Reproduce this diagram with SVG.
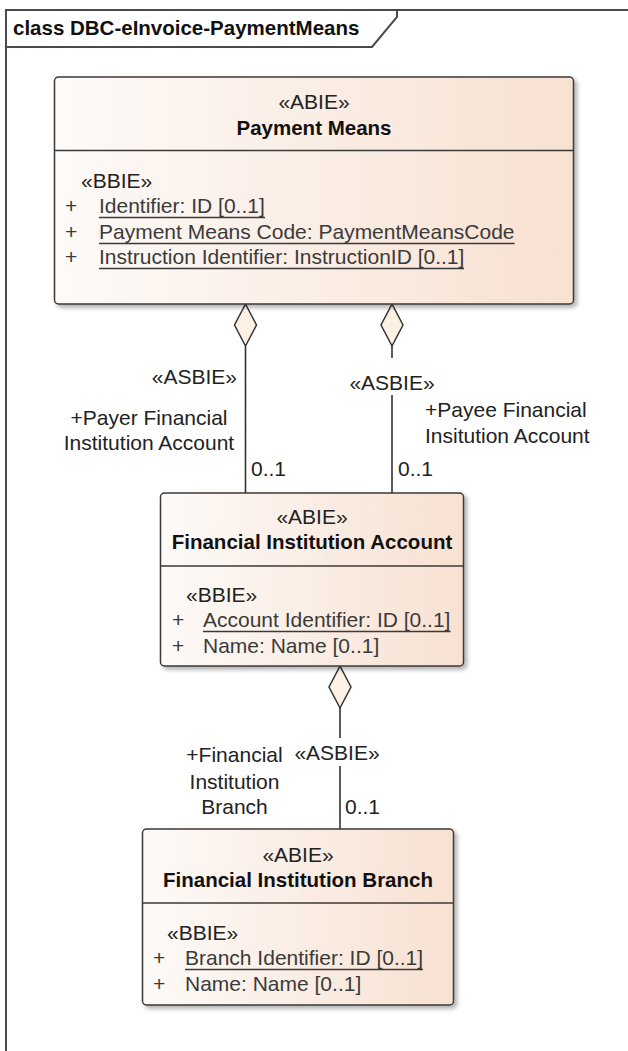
<svg xmlns="http://www.w3.org/2000/svg" width="628" height="1051" viewBox="0 0 628 1051">
  <style>
    text { font-family: "Liberation Sans", Arial, sans-serif; font-size: 21px; fill: #2a2a2a; }
    .title { font-weight: bold; font-size: 20.5px; fill: #111; }
    .ster { fill: #222; }
    .attr { fill: #3a3a3a; }
    .lbl { fill: #222; }
    .mid { text-anchor: middle; }
    .end { text-anchor: end; }
    .box { fill: url(#boxFill); stroke: #3a3a3a; stroke-width: 1.5; filter: url(#shadow); }
    .div { stroke: #3a3a3a; stroke-width: 1.5; }
    .ul { stroke: #3a3a3a; stroke-width: 1.5; }
    .conn { stroke: #333; stroke-width: 1.6; fill: none; }
    .agg { fill: #fdf1e4; stroke: #333; stroke-width: 1.5; }
    .frame { stroke: #4a4a4a; stroke-width: 2; fill: none; }
  </style>
  <defs>
    <linearGradient id="boxFill" x1="0" y1="0" x2="1" y2="0">
      <stop offset="0" stop-color="#fdfaf8"/>
      <stop offset="1" stop-color="#f8e1d1"/>
    </linearGradient>
    <filter id="shadow" x="-5%" y="-5%" width="115%" height="115%">
      <feDropShadow dx="3" dy="3" stdDeviation="2" flood-color="#000" flood-opacity="0.3"/>
    </filter>
  </defs>

  <rect width="628" height="1051" fill="#fff"/>

  <!-- diagram frame with name tab -->
  <g id="frame">
    <path class="frame" d="M6,1060 V10 H640"/>
    <path class="frame" d="M6,47 H372 L397,17 V10"/>
    <text class="title" x="13" y="35">class DBC-eInvoice-PaymentMeans</text>
  </g>

  <!-- aggregation connectors -->
  <g id="connectors">
    <!-- Payment Means -> Financial Institution Account (payer) -->
    <line class="conn" x1="245.5" y1="346" x2="245.5" y2="493"/>
    <polygon class="agg" points="245.5,304 256.5,325 245.5,346 234.5,325"/>
    <text class="lbl end" x="237" y="384">«ASBIE»</text>
    <text class="lbl mid" x="149" y="425">+Payer Financial</text>
    <text class="lbl mid" x="149" y="450">Institution Account</text>
    <text class="lbl" x="251" y="476">0..1</text>

    <!-- Payment Means -> Financial Institution Account (payee) -->
    <line class="conn" x1="392" y1="346" x2="392" y2="358"/>
    <line class="conn" x1="392" y1="395" x2="392" y2="493"/>
    <polygon class="agg" points="392,304 403,325 392,346 381,325"/>
    <text class="lbl mid" x="392" y="390">«ASBIE»</text>
    <text class="lbl" x="425" y="417">+Payee Financial</text>
    <text class="lbl" x="425" y="443">Insitution Account</text>
    <text class="lbl" x="398" y="476">0..1</text>

    <!-- Financial Institution Account -> Financial Institution Branch -->
    <line class="conn" x1="340" y1="708" x2="340" y2="738"/>
    <line class="conn" x1="340" y1="766" x2="340" y2="829"/>
    <polygon class="agg" points="340,666 351,687 340,708 329,687"/>
    <text class="lbl mid" x="337" y="760">«ASBIE»</text>
    <text class="lbl mid" x="234.5" y="762">+Financial</text>
    <text class="lbl mid" x="234.5" y="789">Institution</text>
    <text class="lbl mid" x="234.5" y="814">Branch</text>
    <text class="lbl" x="345" y="814">0..1</text>
  </g>

  <!-- Payment Means -->
  <g id="payment-means">
    <rect class="box" x="54.5" y="77" width="519" height="227" rx="4"/>
    <line class="div" x1="54.5" y1="150.5" x2="573.5" y2="150.5"/>
    <text class="ster mid" x="314" y="109">«ABIE»</text>
    <text class="title mid" x="314" y="135">Payment Means</text>
    <text class="ster" x="81" y="188">«BBIE»</text>
    <text class="attr" x="65" y="213">+</text>
    <text class="attr" x="99" y="213">Identifier: ID [0..1]</text>
    <line class="ul" x1="99" y1="217.5" x2="265" y2="217.5"/>
    <text class="attr" x="65" y="239">+</text>
    <text class="attr" x="99" y="239">Payment Means Code: PaymentMeansCode</text>
    <line class="ul" x1="99" y1="243.5" x2="514.5" y2="243.5"/>
    <text class="attr" x="65" y="264">+</text>
    <text class="attr" x="99" y="264">Instruction Identifier: InstructionID [0..1]</text>
    <line class="ul" x1="99" y1="268.5" x2="464" y2="268.5"/>
  </g>

  <!-- Financial Institution Account -->
  <g id="financial-institution-account">
    <rect class="box" x="160.5" y="493" width="303" height="173" rx="4"/>
    <line class="div" x1="160.5" y1="566" x2="463.5" y2="566"/>
    <text class="ster mid" x="312" y="524">«ABIE»</text>
    <text class="title mid" x="312" y="549">Financial Institution Account</text>
    <text class="ster" x="186" y="602">«BBIE»</text>
    <text class="attr" x="172" y="627">+</text>
    <text class="attr" x="203" y="627">Account Identifier: ID [0..1]</text>
    <line class="ul" x1="203" y1="631.5" x2="450.5" y2="631.5"/>
    <text class="attr" x="172" y="653">+</text>
    <text class="attr" x="203" y="653">Name: Name [0..1]</text>
  </g>

  <!-- Financial Institution Branch -->
  <g id="financial-institution-branch">
    <rect class="box" x="142.5" y="829" width="311" height="176" rx="4"/>
    <line class="div" x1="142.5" y1="903" x2="453.5" y2="903"/>
    <text class="ster mid" x="298" y="862">«ABIE»</text>
    <text class="title mid" x="298" y="887">Financial Institution Branch</text>
    <text class="ster" x="167" y="940">«BBIE»</text>
    <text class="attr" x="153" y="965">+</text>
    <text class="attr" x="185" y="965">Branch Identifier: ID [0..1]</text>
    <line class="ul" x1="185" y1="969.5" x2="423" y2="969.5"/>
    <text class="attr" x="153" y="991">+</text>
    <text class="attr" x="185" y="991">Name: Name [0..1]</text>
  </g>
</svg>
